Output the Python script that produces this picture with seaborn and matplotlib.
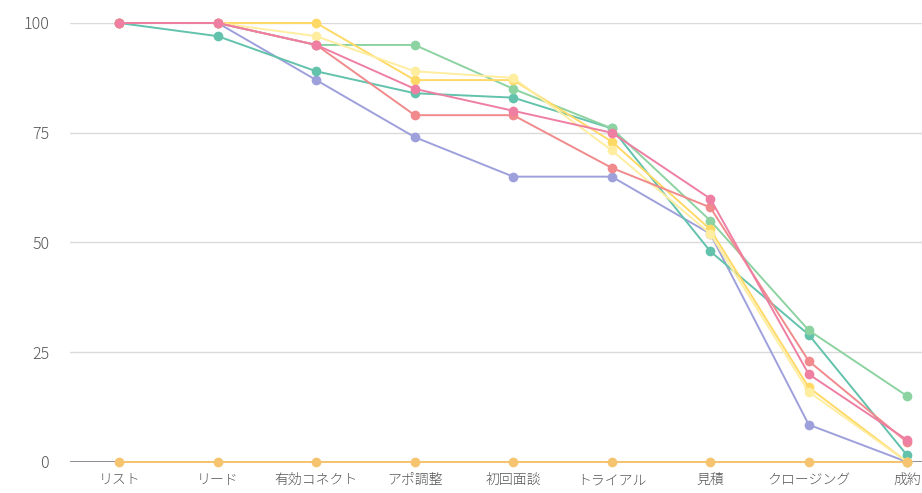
import pandas as pd
import matplotlib.pyplot as plt
import seaborn as sns

# Funnel stages
stages = ["リスト", "リード", "有効コネクト", "アポ調整", "初回面談", "トライアル", "見積", "クロージング", "成約"]

# Conversion rate (%) per series
purple = [100, 100, 87, 74, 65, 65, 52, 8.5, 0]
teal = [100, 97, 89, 84, 83, 76, 48, 29, 1.5]
green = [100, 100, 95, 95, 85, 76, 55, 30, 15]
yellow = [100, 100, 100, 87, 87, 73, 53, 17, 0]
light_yellow = [100, 100, 97, 89, 87.5, 71, 52, 16, 0]
red = [100, 100, 95, 79, 79, 67, 58, 23, 4.5]
pink = [100, 100, 95, 85, 80, 75, 60, 20, 5]
orange = [0, 0, 0, 0, 0, 0, 0, 0, 0]

series = {
    "purple": purple,
    "teal": teal,
    "green": green,
    "yellow": yellow,
    "light_yellow": light_yellow,
    "red": red,
    "pink": pink,
    "orange": orange,
}
colors = {
    "purple": "#9EA0DC",
    "teal": "#62C2AC",
    "green": "#8DD3A2",
    "yellow": "#FFD966",
    "light_yellow": "#FFEDA0",
    "red": "#F08A8C",
    "pink": "#EE7FA2",
    "orange": "#F6C46E",
}

#Build long-form table
rows = []
for name, vals in series.items():
    for st, v in zip(stages, vals):
        rows.append({"stage": st, "value": v, "series": name})
df = pd.DataFrame(rows)

sns.set_style("white")
plt.rcParams["font.family"] = ["Noto Sans CJK JP", "DejaVu Sans"]

fig = plt.figure(figsize=(9.22, 4.93), dpi=100)
ax = fig.add_axes([70 / 922, 1 - 462 / 493, 1 - 70 / 922, (462 - 23) / 493])

sns.lineplot(data=df, x="stage", y="value", hue="series", palette=colors,
             marker="o", markersize=7, markeredgewidth=0, linewidth=1.4,
             sort=False, legend=False, ax=ax, clip_on=False, zorder=3)

ax.set_xlim(-0.5, 8.15)
ax.set_ylim(0, 100)
ax.set_yticks([0, 25, 50, 75, 100])
ax.set_xlabel("")
ax.set_ylabel("")
for y in [25, 50, 75, 100]:
    ax.axhline(y, color="#DADADA", linewidth=1, zorder=1)
ax.axhline(0, color="#7A7888", linewidth=1.2, zorder=2)

for s in ax.spines.values():
    s.set_visible(False)
ax.tick_params(axis="both", length=0, labelcolor="#555555")
ax.tick_params(axis="y", pad=15, labelsize=11.5)
ax.tick_params(axis="x", pad=8, labelsize=10)
for lab in ax.get_xticklabels() + ax.get_yticklabels():
    lab.set_fontweight("light")

fig.savefig("out.png", dpi=100)
